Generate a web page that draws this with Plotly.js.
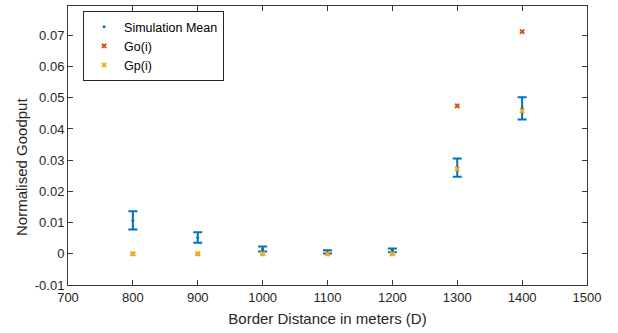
<!DOCTYPE html>
<html>
<head>
<meta charset="utf-8">
<script src="https://cdn.plot.ly/plotly-3.0.1.min.js"></script>
<style>html,body{margin:0;padding:0;background:#fff;}#chart{width:618px;height:333px;}</style>
</head>
<body>
<div id="chart"></div>
<script>
// Border distance (m)
const distances = [800, 900, 1000, 1100, 1200, 1300, 1400];
// Simulation mean and error half-width
const simMean = [0.0107, 0.0052, 0.0015, 0.0006, 0.0011, 0.0276, 0.0466];
const simErr  = [0.0029, 0.0017, 0.0008, 0.0005, 0.0006, 0.0029, 0.0036];
// Analytical Go(i) and Gp(i)
const goVals = [0, 0, 0, 0, 0, 0.0474, 0.0712];
const gpVals = [0, 0, 0, 0, 0, 0.0272, 0.0458];
// Tick labels
const xTicks = [700, 800, 900, 1000, 1100, 1200, 1300, 1400, 1500];
const yTicks = [-0.01, 0, 0.01, 0.02, 0.03, 0.04, 0.05, 0.06, 0.07];
const yTickText = ["-0.01", "0", "0.01", "0.02", "0.03", "0.04", "0.05", "0.06", "0.07"];

const fontFam = '"Liberation Sans", Arial, Helvetica, sans-serif';
const axisColor = '#3a3a3a';

const traces = [
  {
    x: distances, y: simMean, type: 'scatter', mode: 'markers', name: 'Simulation Mean',
    marker: {color: '#0072BD', size: 3, symbol: 'circle'},
    error_y: {type: 'data', array: simErr, visible: true, color: '#0072BD', thickness: 2, width: 4.5}
  },
  {
    x: distances, y: goVals, type: 'scatter', mode: 'markers', name: 'Go(i)',
    marker: {color: '#D95319', size: 5, symbol: 'x'}
  },
  {
    x: distances, y: gpVals, type: 'scatter', mode: 'markers', name: 'Gp(i)',
    marker: {color: '#EDB120', size: 5, symbol: 'x'}
  }
];

const layout = {
  width: 618, height: 333,
  margin: {l: 68, r: 31, t: 6, b: 48, pad: 0},
  paper_bgcolor: '#fff', plot_bgcolor: '#fff',
  font: {family: fontFam, size: 13, color: '#262626'},
  showlegend: true,
  legend: {
    x: 0.029, y: 0.982, xanchor: 'left', yanchor: 'top',
    bgcolor: '#fff', bordercolor: '#262626', borderwidth: 1,
    font: {family: fontFam, size: 12.5, color: '#000'},
    itemwidth: 30, tracegroupgap: 0
  },
  xaxis: {
    range: [700, 1500], tickvals: xTicks, ticktext: xTicks.map(String),
    ticks: 'inside', ticklen: 5, tickcolor: axisColor, showline: true, linecolor: axisColor, linewidth: 1,
    mirror: 'allticks', showgrid: false, zeroline: false,
    tickfont: {size: 13, color: '#262626'},
    title: {text: 'Border Distance in meters (D)', font: {size: 15, color: '#262626'}, standoff: 9}
  },
  yaxis: {
    range: [-0.01, 0.0794], tickvals: yTicks, ticktext: yTickText,
    ticks: 'inside', ticklen: 5, tickcolor: axisColor, showline: true, linecolor: axisColor, linewidth: 1,
    mirror: 'allticks', showgrid: false, zeroline: false,
    tickfont: {size: 13, color: '#262626'}
  },
  annotations: [{
    text: 'Normalised Goodput', textangle: -90, showarrow: false,
    xref: 'paper', yref: 'paper', x: -0.0886, y: 0.423, xanchor: 'center', yanchor: 'middle',
    font: {family: fontFam, size: 15, color: '#262626'}
  }]
};

Plotly.newPlot('chart', traces, layout, {displayModeBar: false, staticPlot: true});
</script>
</body>
</html>
